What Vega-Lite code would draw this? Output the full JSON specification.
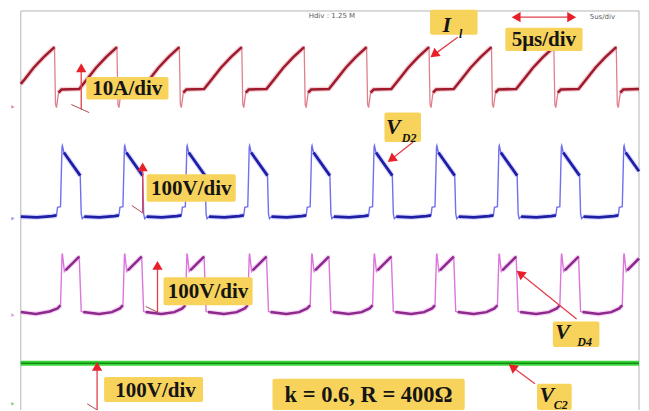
{
  "$schema": "https://vega.github.io/schema/vega-lite/v6.json",
  "width": 649,
  "height": 411,
  "autosize": {"type": "fit", "contains": "padding"},
  "padding": 0,
  "background": "#ffffff",
  "config": {"view": {"stroke": null}},
  "datasets": {
    "frame": [
      {"t": 0, "v": 6.4, "t2": 0, "v2": 0},
      {"t": 0, "v": 6.4, "t2": 49.52, "v2": 6.4},
      {"t": 49.52, "v": 6.4, "t2": 49.52, "v2": 0}
    ],
    "il": [
      {"t": 0, "v": 5.23, "s": 1}, {"t": 0.33, "v": 5.31, "s": 1}, {"t": 1.03, "v": 5.49, "s": 1}, {"t": 1.83, "v": 5.66, "s": 1}, {"t": 2.7, "v": 5.82, "s": 1},
      {"t": 2.78, "v": 4.9, "s": 0}, {"t": 2.86, "v": 4.85, "s": 0},
      {"t": 3.02, "v": 5.09, "s": 2}, {"t": 3.26, "v": 5.14, "s": 2}, {"t": 4.68, "v": 5.15, "s": 2}, {"t": 5.32, "v": 5.31, "s": 2}, {"t": 6.03, "v": 5.49, "s": 2}, {"t": 6.83, "v": 5.66, "s": 2}, {"t": 7.7, "v": 5.82, "s": 2},
      {"t": 7.78, "v": 4.9, "s": 0}, {"t": 7.86, "v": 4.85, "s": 0},
      {"t": 8.02, "v": 5.09, "s": 3}, {"t": 8.26, "v": 5.14, "s": 3}, {"t": 9.68, "v": 5.15, "s": 3}, {"t": 10.32, "v": 5.31, "s": 3}, {"t": 11.03, "v": 5.49, "s": 3}, {"t": 11.83, "v": 5.66, "s": 3}, {"t": 12.7, "v": 5.82, "s": 3},
      {"t": 12.78, "v": 4.9, "s": 0}, {"t": 12.86, "v": 4.85, "s": 0},
      {"t": 13.02, "v": 5.09, "s": 4}, {"t": 13.26, "v": 5.14, "s": 4}, {"t": 14.68, "v": 5.15, "s": 4}, {"t": 15.32, "v": 5.31, "s": 4}, {"t": 16.03, "v": 5.49, "s": 4}, {"t": 16.83, "v": 5.66, "s": 4}, {"t": 17.7, "v": 5.82, "s": 4},
      {"t": 17.78, "v": 4.9, "s": 0}, {"t": 17.86, "v": 4.85, "s": 0},
      {"t": 18.02, "v": 5.09, "s": 5}, {"t": 18.26, "v": 5.14, "s": 5}, {"t": 19.68, "v": 5.15, "s": 5}, {"t": 20.32, "v": 5.31, "s": 5}, {"t": 21.03, "v": 5.49, "s": 5}, {"t": 21.83, "v": 5.66, "s": 5}, {"t": 22.7, "v": 5.82, "s": 5},
      {"t": 22.78, "v": 4.9, "s": 0}, {"t": 22.86, "v": 4.85, "s": 0},
      {"t": 23.02, "v": 5.09, "s": 6}, {"t": 23.26, "v": 5.14, "s": 6}, {"t": 24.68, "v": 5.15, "s": 6}, {"t": 25.32, "v": 5.31, "s": 6}, {"t": 26.03, "v": 5.49, "s": 6}, {"t": 26.83, "v": 5.66, "s": 6}, {"t": 27.7, "v": 5.82, "s": 6},
      {"t": 27.78, "v": 4.9, "s": 0}, {"t": 27.86, "v": 4.85, "s": 0},
      {"t": 28.02, "v": 5.09, "s": 7}, {"t": 28.26, "v": 5.14, "s": 7}, {"t": 29.68, "v": 5.15, "s": 7}, {"t": 30.32, "v": 5.31, "s": 7}, {"t": 31.03, "v": 5.49, "s": 7}, {"t": 31.83, "v": 5.66, "s": 7}, {"t": 32.7, "v": 5.82, "s": 7},
      {"t": 32.78, "v": 4.9, "s": 0}, {"t": 32.86, "v": 4.85, "s": 0},
      {"t": 33.02, "v": 5.09, "s": 8}, {"t": 33.26, "v": 5.14, "s": 8}, {"t": 34.68, "v": 5.15, "s": 8}, {"t": 35.32, "v": 5.31, "s": 8}, {"t": 36.03, "v": 5.49, "s": 8}, {"t": 36.83, "v": 5.66, "s": 8}, {"t": 37.7, "v": 5.82, "s": 8},
      {"t": 37.78, "v": 4.9, "s": 0}, {"t": 37.86, "v": 4.85, "s": 0},
      {"t": 38.02, "v": 5.09, "s": 9}, {"t": 38.26, "v": 5.14, "s": 9}, {"t": 39.68, "v": 5.15, "s": 9}, {"t": 40.32, "v": 5.31, "s": 9}, {"t": 41.03, "v": 5.49, "s": 9}, {"t": 41.83, "v": 5.66, "s": 9}, {"t": 42.7, "v": 5.82, "s": 9},
      {"t": 42.78, "v": 4.9, "s": 0}, {"t": 42.86, "v": 4.85, "s": 0},
      {"t": 43.02, "v": 5.09, "s": 10}, {"t": 43.26, "v": 5.14, "s": 10}, {"t": 44.68, "v": 5.15, "s": 10}, {"t": 45.32, "v": 5.31, "s": 10}, {"t": 46.03, "v": 5.49, "s": 10}, {"t": 46.83, "v": 5.66, "s": 10}, {"t": 47.7, "v": 5.82, "s": 10},
      {"t": 47.78, "v": 4.9, "s": 0}, {"t": 47.86, "v": 4.85, "s": 0},
      {"t": 48.02, "v": 5.09, "s": 11}, {"t": 48.26, "v": 5.14, "s": 11}, {"t": 49.52, "v": 5.15, "s": 11}
    ],
    "vd2": [
      {"t": 0, "v": 3.1, "s": 1}, {"t": 1.3, "v": 3.09, "s": 1}, {"t": 2.5, "v": 3.11, "s": 1}, {"t": 2.86, "v": 3.12, "s": 1},
      {"t": 2.94, "v": 3.25, "s": 0}, {"t": 3.18, "v": 3.26, "s": 0}, {"t": 3.3, "v": 4.22, "s": 0}, {"t": 3.33, "v": 4.24, "s": 0},
      {"t": 3.45, "v": 4.13, "s": 2}, {"t": 4.76, "v": 3.76, "s": 2},
      {"t": 4.84, "v": 3.15, "s": 0}, {"t": 4.92, "v": 3.07, "s": 0},
      {"t": 5.08, "v": 3.1, "s": 3}, {"t": 6.3, "v": 3.09, "s": 3}, {"t": 7.5, "v": 3.11, "s": 3}, {"t": 7.86, "v": 3.12, "s": 3},
      {"t": 7.94, "v": 3.25, "s": 0}, {"t": 8.18, "v": 3.26, "s": 0}, {"t": 8.3, "v": 4.22, "s": 0}, {"t": 8.33, "v": 4.24, "s": 0},
      {"t": 8.45, "v": 4.13, "s": 4}, {"t": 9.76, "v": 3.76, "s": 4},
      {"t": 9.84, "v": 3.15, "s": 0}, {"t": 9.92, "v": 3.07, "s": 0},
      {"t": 10.08, "v": 3.1, "s": 5}, {"t": 11.3, "v": 3.09, "s": 5}, {"t": 12.5, "v": 3.11, "s": 5}, {"t": 12.86, "v": 3.12, "s": 5},
      {"t": 12.94, "v": 3.25, "s": 0}, {"t": 13.18, "v": 3.26, "s": 0}, {"t": 13.3, "v": 4.22, "s": 0}, {"t": 13.33, "v": 4.24, "s": 0},
      {"t": 13.45, "v": 4.13, "s": 6}, {"t": 14.76, "v": 3.76, "s": 6},
      {"t": 14.84, "v": 3.15, "s": 0}, {"t": 14.92, "v": 3.07, "s": 0},
      {"t": 15.08, "v": 3.1, "s": 7}, {"t": 16.3, "v": 3.09, "s": 7}, {"t": 17.5, "v": 3.11, "s": 7}, {"t": 17.86, "v": 3.12, "s": 7},
      {"t": 17.94, "v": 3.25, "s": 0}, {"t": 18.18, "v": 3.26, "s": 0}, {"t": 18.3, "v": 4.22, "s": 0}, {"t": 18.33, "v": 4.24, "s": 0},
      {"t": 18.45, "v": 4.13, "s": 8}, {"t": 19.76, "v": 3.76, "s": 8},
      {"t": 19.84, "v": 3.15, "s": 0}, {"t": 19.92, "v": 3.07, "s": 0},
      {"t": 20.08, "v": 3.1, "s": 9}, {"t": 21.3, "v": 3.09, "s": 9}, {"t": 22.5, "v": 3.11, "s": 9}, {"t": 22.86, "v": 3.12, "s": 9},
      {"t": 22.94, "v": 3.25, "s": 0}, {"t": 23.18, "v": 3.26, "s": 0}, {"t": 23.3, "v": 4.22, "s": 0}, {"t": 23.33, "v": 4.24, "s": 0},
      {"t": 23.45, "v": 4.13, "s": 10}, {"t": 24.76, "v": 3.76, "s": 10},
      {"t": 24.84, "v": 3.15, "s": 0}, {"t": 24.92, "v": 3.07, "s": 0},
      {"t": 25.08, "v": 3.1, "s": 11}, {"t": 26.3, "v": 3.09, "s": 11}, {"t": 27.5, "v": 3.11, "s": 11}, {"t": 27.86, "v": 3.12, "s": 11},
      {"t": 27.94, "v": 3.25, "s": 0}, {"t": 28.18, "v": 3.26, "s": 0}, {"t": 28.3, "v": 4.22, "s": 0}, {"t": 28.33, "v": 4.24, "s": 0},
      {"t": 28.45, "v": 4.13, "s": 12}, {"t": 29.76, "v": 3.76, "s": 12},
      {"t": 29.84, "v": 3.15, "s": 0}, {"t": 29.92, "v": 3.07, "s": 0},
      {"t": 30.08, "v": 3.1, "s": 13}, {"t": 31.3, "v": 3.09, "s": 13}, {"t": 32.5, "v": 3.11, "s": 13}, {"t": 32.86, "v": 3.12, "s": 13},
      {"t": 32.94, "v": 3.25, "s": 0}, {"t": 33.18, "v": 3.26, "s": 0}, {"t": 33.3, "v": 4.22, "s": 0}, {"t": 33.33, "v": 4.24, "s": 0},
      {"t": 33.45, "v": 4.13, "s": 14}, {"t": 34.76, "v": 3.76, "s": 14},
      {"t": 34.84, "v": 3.15, "s": 0}, {"t": 34.92, "v": 3.07, "s": 0},
      {"t": 35.08, "v": 3.1, "s": 15}, {"t": 36.3, "v": 3.09, "s": 15}, {"t": 37.5, "v": 3.11, "s": 15}, {"t": 37.86, "v": 3.12, "s": 15},
      {"t": 37.94, "v": 3.25, "s": 0}, {"t": 38.18, "v": 3.26, "s": 0}, {"t": 38.3, "v": 4.22, "s": 0}, {"t": 38.33, "v": 4.24, "s": 0},
      {"t": 38.45, "v": 4.13, "s": 16}, {"t": 39.76, "v": 3.76, "s": 16},
      {"t": 39.84, "v": 3.15, "s": 0}, {"t": 39.92, "v": 3.07, "s": 0},
      {"t": 40.08, "v": 3.1, "s": 17}, {"t": 41.3, "v": 3.09, "s": 17}, {"t": 42.5, "v": 3.11, "s": 17}, {"t": 42.86, "v": 3.12, "s": 17},
      {"t": 42.94, "v": 3.25, "s": 0}, {"t": 43.18, "v": 3.26, "s": 0}, {"t": 43.3, "v": 4.22, "s": 0}, {"t": 43.33, "v": 4.24, "s": 0},
      {"t": 43.45, "v": 4.13, "s": 18}, {"t": 44.76, "v": 3.76, "s": 18},
      {"t": 44.84, "v": 3.15, "s": 0}, {"t": 44.92, "v": 3.07, "s": 0},
      {"t": 45.08, "v": 3.1, "s": 19}, {"t": 46.3, "v": 3.09, "s": 19}, {"t": 47.5, "v": 3.11, "s": 19}, {"t": 47.86, "v": 3.12, "s": 19},
      {"t": 47.94, "v": 3.25, "s": 0}, {"t": 48.18, "v": 3.26, "s": 0}, {"t": 48.3, "v": 4.22, "s": 0}, {"t": 48.33, "v": 4.24, "s": 0},
      {"t": 48.45, "v": 4.13, "s": 20}, {"t": 49.52, "v": 3.83, "s": 20}
    ],
    "vd4": [
      {"t": 0, "v": 1.57, "s": 1}, {"t": 1.2, "v": 1.54, "s": 1}, {"t": 2.3, "v": 1.58, "s": 1}, {"t": 2.94, "v": 1.63, "s": 1}, {"t": 3.18, "v": 1.68, "s": 1},
      {"t": 3.3, "v": 2.48, "s": 0}, {"t": 3.33, "v": 2.51, "s": 0}, {"t": 3.49, "v": 2.22, "s": 0},
      {"t": 3.57, "v": 2.24, "s": 2}, {"t": 4.68, "v": 2.46, "s": 2},
      {"t": 4.84, "v": 1.58, "s": 0},
      {"t": 5.0, "v": 1.57, "s": 3}, {"t": 6.27, "v": 1.54, "s": 3}, {"t": 7.3, "v": 1.57, "s": 3}, {"t": 7.94, "v": 1.63, "s": 3}, {"t": 8.18, "v": 1.68, "s": 3},
      {"t": 8.3, "v": 2.48, "s": 0}, {"t": 8.33, "v": 2.51, "s": 0}, {"t": 8.49, "v": 2.22, "s": 0},
      {"t": 8.57, "v": 2.24, "s": 4}, {"t": 9.68, "v": 2.46, "s": 4},
      {"t": 9.84, "v": 1.58, "s": 0},
      {"t": 10.0, "v": 1.57, "s": 5}, {"t": 11.27, "v": 1.54, "s": 5}, {"t": 12.3, "v": 1.57, "s": 5}, {"t": 12.94, "v": 1.63, "s": 5}, {"t": 13.18, "v": 1.68, "s": 5},
      {"t": 13.3, "v": 2.48, "s": 0}, {"t": 13.33, "v": 2.51, "s": 0}, {"t": 13.49, "v": 2.22, "s": 0},
      {"t": 13.57, "v": 2.24, "s": 6}, {"t": 14.68, "v": 2.46, "s": 6},
      {"t": 14.84, "v": 1.58, "s": 0},
      {"t": 15.0, "v": 1.57, "s": 7}, {"t": 16.27, "v": 1.54, "s": 7}, {"t": 17.3, "v": 1.57, "s": 7}, {"t": 17.94, "v": 1.63, "s": 7}, {"t": 18.18, "v": 1.68, "s": 7},
      {"t": 18.3, "v": 2.48, "s": 0}, {"t": 18.33, "v": 2.51, "s": 0}, {"t": 18.49, "v": 2.22, "s": 0},
      {"t": 18.57, "v": 2.24, "s": 8}, {"t": 19.68, "v": 2.46, "s": 8},
      {"t": 19.84, "v": 1.58, "s": 0},
      {"t": 20.0, "v": 1.57, "s": 9}, {"t": 21.27, "v": 1.54, "s": 9}, {"t": 22.3, "v": 1.57, "s": 9}, {"t": 22.94, "v": 1.63, "s": 9}, {"t": 23.18, "v": 1.68, "s": 9},
      {"t": 23.3, "v": 2.48, "s": 0}, {"t": 23.33, "v": 2.51, "s": 0}, {"t": 23.49, "v": 2.22, "s": 0},
      {"t": 23.57, "v": 2.24, "s": 10}, {"t": 24.68, "v": 2.46, "s": 10},
      {"t": 24.84, "v": 1.58, "s": 0},
      {"t": 25.0, "v": 1.57, "s": 11}, {"t": 26.27, "v": 1.54, "s": 11}, {"t": 27.3, "v": 1.57, "s": 11}, {"t": 27.94, "v": 1.63, "s": 11}, {"t": 28.18, "v": 1.68, "s": 11},
      {"t": 28.3, "v": 2.48, "s": 0}, {"t": 28.33, "v": 2.51, "s": 0}, {"t": 28.49, "v": 2.22, "s": 0},
      {"t": 28.57, "v": 2.24, "s": 12}, {"t": 29.68, "v": 2.46, "s": 12},
      {"t": 29.84, "v": 1.58, "s": 0},
      {"t": 30.0, "v": 1.57, "s": 13}, {"t": 31.27, "v": 1.54, "s": 13}, {"t": 32.3, "v": 1.57, "s": 13}, {"t": 32.94, "v": 1.63, "s": 13}, {"t": 33.18, "v": 1.68, "s": 13},
      {"t": 33.3, "v": 2.48, "s": 0}, {"t": 33.33, "v": 2.51, "s": 0}, {"t": 33.49, "v": 2.22, "s": 0},
      {"t": 33.57, "v": 2.24, "s": 14}, {"t": 34.68, "v": 2.46, "s": 14},
      {"t": 34.84, "v": 1.58, "s": 0},
      {"t": 35.0, "v": 1.57, "s": 15}, {"t": 36.27, "v": 1.54, "s": 15}, {"t": 37.3, "v": 1.57, "s": 15}, {"t": 37.94, "v": 1.63, "s": 15}, {"t": 38.18, "v": 1.68, "s": 15},
      {"t": 38.3, "v": 2.48, "s": 0}, {"t": 38.33, "v": 2.51, "s": 0}, {"t": 38.49, "v": 2.22, "s": 0},
      {"t": 38.57, "v": 2.24, "s": 16}, {"t": 39.68, "v": 2.46, "s": 16},
      {"t": 39.84, "v": 1.58, "s": 0},
      {"t": 40.0, "v": 1.57, "s": 17}, {"t": 41.27, "v": 1.54, "s": 17}, {"t": 42.3, "v": 1.57, "s": 17}, {"t": 42.94, "v": 1.63, "s": 17}, {"t": 43.18, "v": 1.68, "s": 17},
      {"t": 43.3, "v": 2.48, "s": 0}, {"t": 43.33, "v": 2.51, "s": 0}, {"t": 43.49, "v": 2.22, "s": 0},
      {"t": 43.57, "v": 2.24, "s": 18}, {"t": 44.68, "v": 2.46, "s": 18},
      {"t": 44.84, "v": 1.58, "s": 0},
      {"t": 45.0, "v": 1.57, "s": 19}, {"t": 46.27, "v": 1.54, "s": 19}, {"t": 47.3, "v": 1.57, "s": 19}, {"t": 47.94, "v": 1.63, "s": 19}, {"t": 48.18, "v": 1.68, "s": 19},
      {"t": 48.3, "v": 2.48, "s": 0}, {"t": 48.33, "v": 2.51, "s": 0}, {"t": 48.49, "v": 2.22, "s": 0},
      {"t": 48.57, "v": 2.24, "s": 20}, {"t": 49.52, "v": 2.43, "s": 20}
    ],
    "vc2": [
      {"t": 0, "v": 0.75}, {"t": 49.52, "v": 0.75}
    ],
    "markers": [
      {"t": -0.63, "v": 4.86, "ch": "I"},
      {"t": -0.63, "v": 3.07, "ch": "VD2"},
      {"t": -0.63, "v": 1.52, "ch": "VD4"},
      {"t": -0.63, "v": 0.1, "ch": "VC2"}
    ],
    "boxes": [
      {"t": 5.24, "v": 5.34, "t2": 11.83, "v2": 4.98},
      {"t": 10.08, "v": 3.78, "t2": 17.22, "v2": 3.34},
      {"t": 11.43, "v": 2.13, "t2": 18.57, "v2": 1.68},
      {"t": 6.67, "v": 0.53, "t2": 14.6, "v2": 0.13},
      {"t": 20.16, "v": 0.5, "t2": 35.56, "v2": 0},
      {"t": 32.78, "v": 6.42, "t2": 36.59, "v2": 6.02},
      {"t": 38.81, "v": 6.13, "t2": 45.0, "v2": 5.76},
      {"t": 29.13, "v": 4.77, "t2": 32.06, "v2": 4.3},
      {"t": 42.62, "v": 1.42, "t2": 46.35, "v2": 1.01},
      {"t": 41.35, "v": 0.42, "t2": 44.13, "v2": 0}
    ],
    "arrows": [
      {"t": 4.84, "v": 5.49, "t2": 4.84, "v2": 4.82, "kind": "shaft"},
      {"t": 4.05, "v": 4.9, "t2": 5.48, "v2": 4.77, "kind": "tail"},
      {"t": 9.76, "v": 3.9, "t2": 9.76, "v2": 3.17, "kind": "shaft"},
      {"t": 8.89, "v": 3.28, "t2": 9.84, "v2": 3.15, "kind": "tail"},
      {"t": 10.95, "v": 2.32, "t2": 10.95, "v2": 1.57, "kind": "shaft"},
      {"t": 10.0, "v": 1.66, "t2": 10.95, "v2": 1.57, "kind": "tail"},
      {"t": 6.11, "v": 0.7, "t2": 6.11, "v2": 0, "kind": "shaft"},
      {"t": 5.32, "v": 0.1, "t2": 6.11, "v2": 0, "kind": "tail"},
      {"t": 35.0, "v": 5.98, "t2": 33.1, "v2": 5.7, "kind": "shaft"},
      {"t": 39.6, "v": 6.3, "t2": 44.2, "v2": 6.3, "kind": "shaft"},
      {"t": 31.43, "v": 4.3, "t2": 29.68, "v2": 4.02, "kind": "shaft"},
      {"t": 44.52, "v": 1.46, "t2": 40.0, "v2": 2.19, "kind": "shaft"},
      {"t": 41.19, "v": 0.42, "t2": 39.37, "v2": 0.69, "kind": "shaft"}
    ],
    "heads": [
      {"t": 4.84, "v": 5.49, "dir": "up"},
      {"t": 9.76, "v": 3.9, "dir": "up"},
      {"t": 10.95, "v": 2.32, "dir": "up"},
      {"t": 6.11, "v": 0.7, "dir": "up"},
      {"t": 33.1, "v": 5.7, "dir": "sw"},
      {"t": 29.68, "v": 4.02, "dir": "sw"},
      {"t": 39.68, "v": 6.3, "dir": "w"},
      {"t": 44.13, "v": 6.3, "dir": "e"},
      {"t": 40.0, "v": 2.19, "dir": "nw"},
      {"t": 39.37, "v": 0.69, "dir": "nw"}
    ],
    "labels": [
      {"t": 8.53, "v": 5.15, "label": "10A/div", "kind": "scale"},
      {"t": 13.65, "v": 3.55, "label": "100V/div", "kind": "scale"},
      {"t": 15.0, "v": 1.9, "label": "100V/div", "kind": "scale"},
      {"t": 10.79, "v": 0.3, "label": "100V/div", "kind": "scale"},
      {"t": 27.86, "v": 0.24, "label": "k = 0.6, R = 400Ω", "kind": "wide"},
      {"t": 41.9, "v": 5.94, "label": "5μs/div", "kind": "scale"},
      {"t": 34.13, "v": 6.18, "label": "I", "kind": "name"},
      {"t": 29.84, "v": 4.54, "label": "V", "kind": "name"},
      {"t": 43.41, "v": 1.25, "label": "V", "kind": "name"},
      {"t": 42.14, "v": 0.24, "label": "V", "kind": "name"},
      {"t": 35.24, "v": 6.03, "label": "l", "kind": "sub"},
      {"t": 31.11, "v": 4.37, "label": "D2", "kind": "sub"},
      {"t": 45.16, "v": 1.09, "label": "D4", "kind": "sub"},
      {"t": 43.25, "v": 0.08, "label": "C2", "kind": "sub"},
      {"t": 24.92, "v": 6.32, "label": "Hdiv : 1.25 M", "kind": "scope"},
      {"t": 46.59, "v": 6.3, "label": "5us/div", "kind": "scope"}
    ]
  },
  "encoding": {
    "x": {"field": "t", "type": "quantitative", "axis": null, "scale": {"domain": [-1.667, 49.841], "nice": false, "zero": false}},
    "y": {"field": "v", "type": "quantitative", "axis": null, "scale": {"domain": [0, 6.576], "nice": false, "zero": false}}
  },
  "layer": [
    {
      "data": {"name": "frame"},
      "mark": {"type": "rule", "color": "#b4b4b4", "strokeWidth": 1},
      "encoding": {"x2": {"field": "t2"}, "y2": {"field": "v2"}}
    },
    {
      "data": {"name": "markers"},
      "mark": {"type": "point", "shape": "triangle-right", "filled": true, "size": 14, "opacity": 0.6},
      "encoding": {
        "color": {"field": "ch", "type": "nominal", "legend": null,
          "scale": {"domain": ["I", "VD2", "VD4", "VC2"], "range": ["#d23c4a", "#5a5ad8", "#c060c8", "#4aa04a"]}}
      }
    },
    {
      "data": {"name": "vc2"},
      "mark": {"type": "line", "color": "#3ad63a", "strokeWidth": 5},
      "encoding": {}
    },
    {
      "data": {"name": "vc2"},
      "mark": {"type": "line", "color": "#128c12", "strokeWidth": 1.6},
      "encoding": {}
    },
    {
      "data": {"name": "il"},
      "mark": {"type": "line", "color": "#e0808e", "strokeWidth": 1.3},
      "encoding": {}
    },
    {
      "data": {"name": "il"},
      "transform": [{"filter": "datum.s > 0"}],
      "mark": {"type": "line", "color": "#eaa0aa", "strokeWidth": 5, "opacity": 0.5},
      "encoding": {"detail": {"field": "s", "type": "nominal"}}
    },
    {
      "data": {"name": "il"},
      "transform": [{"filter": "datum.s > 0"}],
      "mark": {"type": "line", "color": "#9e1b2e", "strokeWidth": 2.5},
      "encoding": {"detail": {"field": "s", "type": "nominal"}}
    },
    {
      "data": {"name": "vd2"},
      "mark": {"type": "line", "color": "#7070ee", "strokeWidth": 1.4},
      "encoding": {}
    },
    {
      "data": {"name": "vd2"},
      "transform": [{"filter": "datum.s > 0"}],
      "mark": {"type": "line", "color": "#a4a4ff", "strokeWidth": 5, "opacity": 0.45},
      "encoding": {"detail": {"field": "s", "type": "nominal"}}
    },
    {
      "data": {"name": "vd2"},
      "transform": [{"filter": "datum.s > 0"}],
      "mark": {"type": "line", "color": "#1f1fa6", "strokeWidth": 2.8},
      "encoding": {"detail": {"field": "s", "type": "nominal"}}
    },
    {
      "data": {"name": "vd4"},
      "mark": {"type": "line", "color": "#dc76dc", "strokeWidth": 1.4},
      "encoding": {}
    },
    {
      "data": {"name": "vd4"},
      "transform": [{"filter": "datum.s > 0"}],
      "mark": {"type": "line", "color": "#f0aaf0", "strokeWidth": 5, "opacity": 0.5},
      "encoding": {"detail": {"field": "s", "type": "nominal"}}
    },
    {
      "data": {"name": "vd4"},
      "transform": [{"filter": "datum.s > 0"}],
      "mark": {"type": "line", "color": "#8c2a8c", "strokeWidth": 2.5},
      "encoding": {"detail": {"field": "s", "type": "nominal"}}
    },
    {
      "data": {"name": "boxes"},
      "mark": {"type": "rect", "color": "#f8d35c", "cornerRadius": 2},
      "encoding": {"x2": {"field": "t2"}, "y2": {"field": "v2"}}
    },
    {
      "data": {"name": "arrows"},
      "transform": [{"filter": "datum.kind == 'shaft'"}],
      "mark": {"type": "rule", "color": "#e2404a", "strokeWidth": 1.3},
      "encoding": {"x2": {"field": "t2"}, "y2": {"field": "v2"}}
    },
    {
      "data": {"name": "arrows"},
      "transform": [{"filter": "datum.kind == 'tail'"}],
      "mark": {"type": "rule", "color": "#b04a50", "strokeWidth": 1},
      "encoding": {"x2": {"field": "t2"}, "y2": {"field": "v2"}}
    },
    {
      "data": {"name": "heads"},
      "transform": [{"filter": "datum.dir == 'up'"}],
      "mark": {"type": "point", "shape": "triangle-up", "filled": true, "color": "#e8202a", "opacity": 1, "size": 105, "angle": 0},
      "encoding": {}
    },
    {
      "data": {"name": "heads"},
      "transform": [{"filter": "datum.dir == 'sw'"}],
      "mark": {"type": "point", "shape": "triangle-up", "filled": true, "color": "#e8202a", "opacity": 1, "size": 105, "angle": 233},
      "encoding": {}
    },
    {
      "data": {"name": "heads"},
      "transform": [{"filter": "datum.dir == 'nw'"}],
      "mark": {"type": "point", "shape": "triangle-up", "filled": true, "color": "#e8202a", "opacity": 1, "size": 105, "angle": 308},
      "encoding": {}
    },
    {
      "data": {"name": "heads"},
      "transform": [{"filter": "datum.dir == 'w'"}],
      "mark": {"type": "point", "shape": "triangle-up", "filled": true, "color": "#e8202a", "opacity": 1, "size": 105, "angle": 270},
      "encoding": {}
    },
    {
      "data": {"name": "heads"},
      "transform": [{"filter": "datum.dir == 'e'"}],
      "mark": {"type": "point", "shape": "triangle-up", "filled": true, "color": "#e8202a", "opacity": 1, "size": 105, "angle": 90},
      "encoding": {}
    },
    {
      "data": {"name": "labels"},
      "transform": [{"filter": "datum.kind == 'scale'"}],
      "mark": {"type": "text", "font": "Liberation Serif", "fontWeight": "bold", "fontSize": 21, "color": "#151515", "align": "center", "baseline": "middle"},
      "encoding": {"text": {"field": "label"}}
    },
    {
      "data": {"name": "labels"},
      "transform": [{"filter": "datum.kind == 'wide'"}],
      "mark": {"type": "text", "font": "Liberation Serif", "fontWeight": "bold", "fontSize": 22.5, "color": "#151515", "align": "center", "baseline": "middle"},
      "encoding": {"text": {"field": "label"}}
    },
    {
      "data": {"name": "labels"},
      "transform": [{"filter": "datum.kind == 'name'"}],
      "mark": {"type": "text", "font": "Liberation Serif", "fontWeight": "bold", "fontStyle": "italic", "fontSize": 22, "color": "#151515", "align": "center", "baseline": "middle"},
      "encoding": {"text": {"field": "label"}}
    },
    {
      "data": {"name": "labels"},
      "transform": [{"filter": "datum.kind == 'sub'"}],
      "mark": {"type": "text", "font": "Liberation Serif", "fontWeight": "bold", "fontStyle": "italic", "fontSize": 12, "color": "#151515", "align": "center", "baseline": "middle"},
      "encoding": {"text": {"field": "label"}}
    },
    {
      "data": {"name": "labels"},
      "transform": [{"filter": "datum.kind == 'scope'"}],
      "mark": {"type": "text", "font": "DejaVu Sans", "fontSize": 7, "color": "#5a5a5a", "align": "center", "baseline": "middle"},
      "encoding": {"text": {"field": "label"}}
    }
  ]
}
